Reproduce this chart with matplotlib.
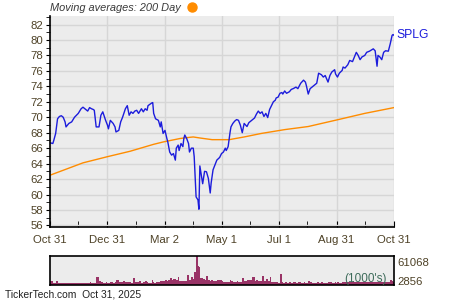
import matplotlib
matplotlib.use('Agg')
import matplotlib.pyplot as plt
import matplotlib.dates as mdates
from matplotlib.lines import Line2D
import numpy as np
import pandas as pd

plt.rcParams['font.family'] = ['Liberation Sans', 'DejaVu Sans']

# days after Oct 31, 2024
days = [0, 3, 4, 6, 8, 10, 12, 14, 16, 17,
        20, 23, 26, 30, 33, 35, 37, 40, 42, 44,
        46, 47, 49, 52, 54, 56, 59, 61, 62, 64,
        67, 69, 70, 73, 75, 77, 80, 82, 84, 86,
        88, 90, 92, 94, 97, 99, 101, 103, 104, 108,
        109, 110, 112, 115, 117, 118, 120, 122, 124, 125,
        127, 129, 131, 133, 134, 136, 137, 139, 141, 142,
        143, 145, 147, 148, 150, 152, 153, 155, 157, 158,
        159, 162, 164, 166, 168, 170, 171, 173, 177, 180,
        182, 184, 186, 187, 189, 191, 192, 194, 196, 198,
        200, 202, 204, 206, 209, 211, 214, 217, 219, 221,
        223, 225, 227, 229, 231, 233, 235, 237, 239, 240,
        242, 244, 246, 247, 249, 251, 254, 256, 258, 261,
        263, 266, 269, 271, 272, 274, 276, 278, 280, 283,
        285, 288, 290, 292, 295, 297, 299, 302, 303, 305,
        307, 310, 311, 313, 316, 318, 321, 323, 325, 327,
        329, 331, 334, 336, 339, 341, 343, 345, 347, 348,
        350, 352, 354, 356, 359, 361, 363, 364, 365]

price = [66.7, 66.6, 67.0, 67.9, 69.8, 70.1, 70.2, 70.0, 69.4, 68.75,
         69.2, 69.4, 70.0, 70.5, 71.1, 71.3, 71.1, 70.8, 71.25, 71.1,
         71.0, 70.9, 68.75, 68.75, 70.26, 70.7, 69.6, 68.97, 68.5, 69.6,
         69.2, 68.75, 68.1, 68.3, 69.4, 70.0, 71.1, 71.5, 70.26, 70.7,
         70.5, 70.8, 70.9, 70.5, 71.1, 70.7, 71.1, 70.9, 71.5, 71.85,
         71.9, 70.5, 69.8, 69.6, 68.75, 69.4, 67.9, 68.3, 67.25, 66.8,
         65.5, 65.1, 65.3, 64.45, 66.0, 66.4, 65.7, 66.6, 66.2, 67.25,
         67.7, 67.25, 66.6, 65.5, 66.0, 66.0, 64.9, 59.7, 59.3, 58.1,
         63.7, 61.4, 63.0, 62.95, 62.1, 60.2, 61.5, 63.2, 64.45, 64.8,
         65.3, 65.5, 66.0, 65.7, 66.2, 68.0, 68.75, 69.2, 69.5, 69.7,
         69.6, 68.97, 68.0, 69.2, 68.8, 69.3, 69.6, 69.9, 70.4, 70.8,
         70.5, 70.7, 70.1, 70.5, 69.96, 71.0, 71.5, 72.0, 72.2, 72.5,
         72.6, 73.1, 73.2, 73.0, 73.4, 73.1, 73.3, 73.6, 73.7, 73.9,
         73.7, 74.4, 74.8, 74.55, 74.1, 73.0, 73.7, 73.9, 74.1, 74.4,
         75.7, 75.5, 75.2, 75.4, 74.55, 75.4, 75.85, 76.15, 75.6, 75.2,
         75.7, 76.06, 76.5, 76.36, 76.8, 77.35, 77.2, 77.8, 78.4, 78.0,
         77.45, 77.8, 78.0, 78.4, 78.55, 78.7, 78.85, 78.6, 76.6, 78.0,
         77.8, 77.45, 78.4, 78.6, 78.55, 79.5, 80.6, 80.7, 80.6]

# volume in thousands
volume = [9, 5, 4, 8, 5, 4, 4, 5, 4, 4,
          5, 4, 5, 5, 4, 5, 4, 5, 6, 5,
          4, 5, 17, 8, 6, 5, 7, 5, 4, 6,
          5, 7, 11, 6, 7, 8, 7, 6, 6, 5,
          15, 7, 6, 9, 5, 6, 8, 6, 5, 11,
          6, 5, 7, 6, 9, 8, 8, 10, 9, 11,
          15, 10, 12, 13, 11, 17, 9, 8, 9, 9,
          8, 22, 11, 10, 17, 13, 28, 61.068, 39, 37,
          15, 12, 10, 20, 11, 9, 10, 9, 11, 10,
          9, 7, 6, 7, 6, 11, 8, 7, 6, 9,
          7, 6, 15, 8, 11, 10, 17, 9, 10, 8,
          9, 20, 9, 13, 8, 17, 7, 6, 7, 6,
          5, 24, 6, 5, 6, 5, 6, 5, 6, 5,
          7, 5, 6, 5, 5, 8, 6, 5, 5, 6,
          5, 6, 5, 5, 6, 7, 5, 6, 5, 6,
          5, 6, 7, 6, 7, 6, 8, 7, 6, 6,
          7, 6, 6, 7, 6, 7, 6, 6, 7, 6,
          6, 7, 6, 7, 6, 11, 8, 7, 6]

ma_days = [0, 35, 61, 85, 110, 120, 138, 148, 152, 160, 172, 190, 206, 224,
           249, 274, 306, 334, 365]
ma_200 = [62.5, 64.1, 64.9, 65.6, 66.5, 66.8, 67.25, 67.4, 67.45, 67.3, 67.1,
          67.1, 67.45, 67.9, 68.4, 68.8, 69.7, 70.5, 71.25]

tick_dates = ['2024-10-31', '2024-12-31', '2025-03-02', '2025-05-01',
              '2025-07-01', '2025-08-31', '2025-10-31']
tick_labels = ['Oct 31', 'Dec 31', 'Mar 2', 'May 1', 'Jul 1', 'Aug 31', 'Oct 31']
minor_dates = ['2024-11-30', '2025-01-30', '2025-04-01', '2025-05-31',
               '2025-07-31', '2025-09-30']

start = pd.Timestamp('2024-10-31')
dates = start + pd.to_timedelta(days, unit='D')
ma_dates = start + pd.to_timedelta(ma_days, unit='D')

label_color = '#4d4126'

fig = plt.figure(figsize=(4.5, 3), dpi=100)

ax = fig.add_axes([50 / 450, 73 / 300, 344 / 450, 211 / 300])
ax.set_facecolor('#ececec')
ax.plot(ma_dates, ma_200, color='#ff8c00', lw=1)
ax.plot(dates, price, color='#1c1cdc', lw=1)
ax.set_xlim(start, pd.Timestamp('2025-10-31'))
ax.set_ylim(55.8, 83.1)

ax.set_xticks(pd.to_datetime(tick_dates))
ax.set_xticklabels(tick_labels)
ax.set_xticks(pd.to_datetime(minor_dates), minor=True)
ax.set_yticks(np.arange(56, 83, 2))
ax.set_yticks(np.arange(56, 84, 1), minor=True)
ax.tick_params(axis='x', which='both', direction='in', length=4, pad=6,
               labelsize=8.2, labelcolor=label_color)
ax.tick_params(axis='y', which='both', direction='out', length=3, pad=2,
               labelsize=8.2, labelcolor=label_color)
ax.grid(True, which='major', color='#d6d6d6', lw=1)
for side in ['top', 'right']:
    ax.spines[side].set_visible(False)
for side in ['left', 'bottom']:
    ax.spines[side].set_linewidth(1.2)

ax.text(1.008, 80.6, 'SPLG', transform=ax.get_yaxis_transform(),
        color='#1c1cdc', fontsize=8.7, va='center', ha='left')

fig.text(50 / 450, 1 - 8 / 300, 'Moving averages: 200 Day', fontsize=7.9,
         style='italic', color='#3a3a3a', va='center', ha='left')
fig.add_artist(Line2D([191.7 / 450], [1 - 6.7 / 300], marker='o',
                      markersize=6.5, color='#ff8c00',
                      transform=fig.transFigure))

# volume panel
vax = fig.add_axes([50 / 450, 15 / 300, 344 / 450, 29 / 300])
vax.set_facecolor('#ececec')
widths = np.diff(days, append=days[-1] + 1)
vax.bar(dates, volume, width=widths, align='edge', color='#993366', lw=0)
vax.set_xlim(start, pd.Timestamp('2025-10-31'))
vax.set_ylim(0, 61.068)
vax.set_xticks([])
vax.set_yticks([])
for s in vax.spines.values():
    s.set_linewidth(1.2)
vax.text(0.98, 0.2, "(1000's)", transform=vax.transAxes, ha='right',
         va='center', fontsize=8.5, color='#3d6b5a')
fig.text(397 / 450, 1 - 262.7 / 300, '61068', fontsize=8.2,
         color=label_color, va='center', ha='left')
fig.text(397 / 450, 1 - 281.7 / 300, '2856', fontsize=8.2,
         color=label_color, va='center', ha='left')

fig.text(5 / 450, 1 - 294.3 / 300, 'TickerTech.com  Oct 31, 2025',
         fontsize=7.4, color='#222222', va='center', ha='left')

fig.savefig('out.png', dpi=100)
